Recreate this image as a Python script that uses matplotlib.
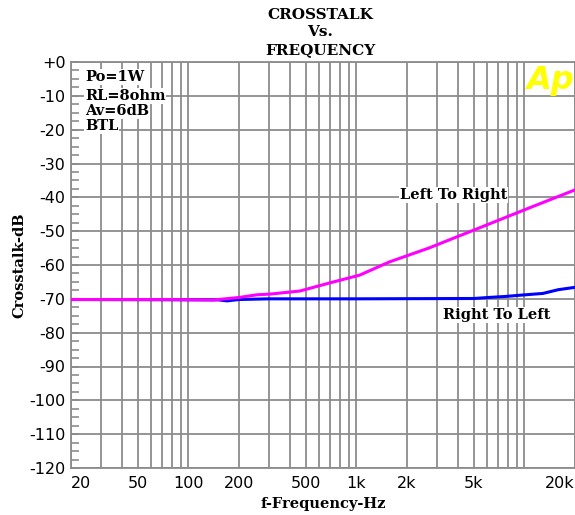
import numpy as np
import matplotlib
matplotlib.use("Agg")
import matplotlib.pyplot as plt

# Crosstalk vs frequency
freq_lr = [20, 78, 140, 200, 256, 306, 460, 693, 1045, 1570, 2695, 5350, 10600, 20000]
db_lr = [-70.2, -70.2, -70.35, -69.6, -68.8, -68.6, -67.7, -65.3, -63.0, -59.1, -55.0, -49.1, -43.2, -37.8]

freq_rl = [20, 150, 170, 200, 300, 1000, 5000, 6100, 7700, 9600, 12900, 15900, 20000]
db_rl = [-70.2, -70.3, -70.6, -70.2, -70.0, -70.0, -69.9, -69.6, -69.3, -68.9, -68.4, -67.3, -66.6]

x_labels = ["20", "50", "100", "200", "500", "1k", "2k", "5k", "20k"]
x_label_pos = [20, 50, 100, 200, 500, 1000, 2000, 5000, 20000]
y_ticks = list(range(0, -121, -10))
y_labels = ["+0"] + [str(v) for v in y_ticks[1:]]
notes = ["Po=1W", "RL=8ohm", "Av=6dB", "BTL"]

serif = "DejaVu Serif"
grid_c = "#8c8c8c"

fig = plt.figure(figsize=(5.75, 5.15), dpi=100)
ax = fig.add_axes([71/575, 1 - 468/515, 504/575, 406/515])

ax.plot(freq_rl, db_rl, color="#0000ff", lw=2.2, zorder=3)
ax.plot(freq_lr, db_lr, color="#ff00ff", lw=2.2, zorder=3)

ax.set_xscale("log")
ax.set_xlim(20, 20000)
ax.set_ylim(-120, 0)

minor = [k * 10**n for n in range(1, 5) for k in range(1, 10) if 20 <= k * 10**n <= 20000]
ax.set_xticks(minor, minor=True)
ax.set_xticks(x_label_pos)
ax.set_xticklabels(x_labels, fontsize=11.5, family="DejaVu Sans")
ax.xaxis.set_minor_formatter(matplotlib.ticker.NullFormatter())
labs = ax.get_xticklabels()
labs[0].set_ha("left")
labs[-1].set_ha("right")
ax.tick_params(axis="x", which="both", length=0, pad=6)

ax.set_yticks(y_ticks)
ax.set_yticklabels(y_labels, fontsize=11.5, family="DejaVu Sans")
ax.set_yticks(np.arange(-120, 0.1, 2.5), minor=True)
ax.tick_params(axis="y", which="both", direction="in", length=6, color=grid_c, width=1.2, pad=4)

ax.grid(True, which="major", axis="y", color=grid_c, lw=1.3)
ax.grid(True, which="both", axis="x", color=grid_c, lw=1.3)
ax.set_axisbelow(True)
for s in ax.spines.values():
    s.set_color(grid_c)
    s.set_linewidth(1.3)

# title
fig.text(320/575, 1 - 15/515, "CROSSTALK", ha="center", va="center", family=serif, weight="bold", fontsize=11)
fig.text(320/575, 1 - 32/515, "Vs.", ha="center", va="center", family=serif, weight="bold", fontsize=11)
fig.text(320/575, 1 - 50/515, "FREQUENCY", ha="center", va="center", family=serif, weight="bold", fontsize=11)

ax.set_xlabel("f-Frequency-Hz", family=serif, weight="bold", fontsize=10.5, labelpad=4)
ax.set_ylabel("Crosstalk-dB", family=serif, weight="bold", fontsize=10.5, labelpad=2)

box = dict(facecolor="white", edgecolor="none", pad=0.5)
note_y = [77, 96, 111, 126]
for t, yy in zip(notes, note_y):
    fig.text(85/575, 1 - yy/515, t, ha="left", va="center", family=serif,
             weight="bold", fontsize=10.5, bbox=box, zorder=5)

fig.text(400/575, 1 - 195/515, "Left To Right", ha="left", va="center", family=serif,
         weight="bold", fontsize=10.5, bbox=box, zorder=5)
fig.text(443/575, 1 - 315/515, "Right To Left", ha="left", va="center", family=serif,
         weight="bold", fontsize=10.5, bbox=box, zorder=5)

fig.text(574/575, 1 - 81/515, "Ap", ha="right", va="center", family="DejaVu Sans",
         weight="bold", style="italic", fontsize=23, color="#ffff00")

fig.savefig("out.png", dpi=100)
